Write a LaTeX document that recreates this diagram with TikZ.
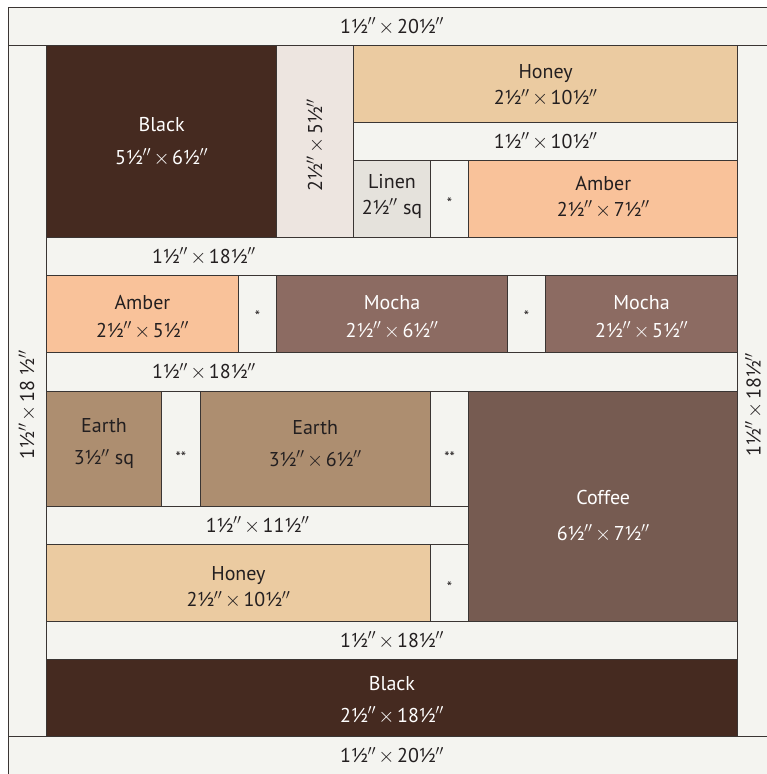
\documentclass[tikz,border=0pt]{standalone}
\usepackage{fontspec}
\setmainfont{PT Sans}
\definecolor{cream}{HTML}{F4F4F0}
\definecolor{seam}{HTML}{3A3533}
\definecolor{ink}{HTML}{231F20}
\definecolor{blackfab}{HTML}{452A20}
\definecolor{blush}{HTML}{EDE5E0}
\definecolor{honey}{HTML}{EBCBA1}
\definecolor{linen}{HTML}{E5E2DC}
\definecolor{amber}{HTML}{F9C29A}
\definecolor{mocha}{HTML}{8C6B62}
\definecolor{earth}{HTML}{AD8E70}
\definecolor{coffee}{HTML}{765B51}
\newcommand{\ins}{\kern-0.5pt$''$}
\newcommand{\by}{\hspace{2.5pt}$\times$\hspace{2.5pt}}

\begin{document}
\begin{tikzpicture}[x=38.4pt,y=-38.4pt]
	\tikzset{
		patch/.style={draw=seam,line width=0.9pt},
		size/.style={font=\fontsize{20}{24}\selectfont,text=ink,align=center,inner sep=0pt},
		sizew/.style={size,text=white},
		star/.style={font=\fontsize{15}{18}\selectfont,text=ink,inner sep=0pt}
	}
	\useasboundingbox (-0.2083,-0.1823) rectangle (19.7656,19.974);
	\clip (-0.2083,-0.1823) rectangle (19.7656,19.974);
	
	% borders
	\draw[patch,fill=cream] (0,0) rectangle (20,1);
	\draw[patch,fill=cream] (0,19) rectangle (20,20);
	\draw[patch,fill=cream] (0,1) rectangle (1,19);
	\draw[patch,fill=cream] (19,1) rectangle (20,19);
	\node[size] (topB) at (10,0.5) {1½\ins\by20½\ins};
	\node[size] (botB) at (10,19.5) {1½\ins\by20½\ins};
	\node[size,rotate=90] (leftB) at (0.5,10.36) {1½\ins\by18 ½\ins};
	\node[size,rotate=90] (rightB) at (19.42,10.36) {1½\ins\by18½\ins};
	
	% top block
	\draw[patch,fill=blackfab] (1,1) rectangle (7,6);
	\node[sizew] (black1) at (4,3.5) {Black\\[9pt]5½\ins\by6½\ins};
	\draw[patch,fill=blush] (7,1) rectangle (9,6);
	\node[size,rotate=90] (blush1) at (8,3.6) {2½\ins\by5½\ins};
	\draw[patch,fill=honey] (9,1) rectangle (19,3);
	\node[size] (honey1) at (14,2.05) {Honey\\[2pt]2½\ins\by10½\ins};
	\draw[patch,fill=cream] (9,3) rectangle (19,4);
	\node[size] (strip1) at (14,3.5) {1½\ins\by10½\ins};
	\draw[patch,fill=linen] (9,4) rectangle (11,6);
	\node[size] (linen1) at (10,4.92) {Linen\\[2pt]2½\ins{} sq};
	\draw[patch,fill=cream] (11,4) rectangle (12,6);
	\node[star] (star1) at (11.5,5.1) {*};
	\draw[patch,fill=amber] (12,4) rectangle (19,6);
	\node[size] (amber1) at (15.5,4.95) {Amber\\[2pt]2½\ins\by7½\ins};
	\draw[patch,fill=cream] (1,6) rectangle (19,7);
	\node[size] (strip2) at (5.1,6.5) {1½\ins\by18½\ins};
	
	% middle row
	\draw[patch,fill=amber] (1,7) rectangle (6,9);
	\node[size] (amber2) at (3.5,8.08) {Amber\\[4pt]2½\ins\by5½\ins};
	\draw[patch,fill=cream] (6,7) rectangle (7,9);
	\node[star] (star2) at (6.5,8.05) {*};
	\draw[patch,fill=mocha] (7,7) rectangle (13,9);
	\node[sizew] (mocha1) at (10,8.08) {Mocha\\[4pt]2½\ins\by6½\ins};
	\draw[patch,fill=cream] (13,7) rectangle (14,9);
	\node[star] (star3) at (13.5,8.05) {*};
	\draw[patch,fill=mocha] (14,7) rectangle (19,9);
	\node[sizew] (mocha2) at (16.5,8.08) {Mocha\\[4pt]2½\ins\by5½\ins};
	\draw[patch,fill=cream] (1,9) rectangle (19,10);
	\node[size] (strip3) at (5.1,9.5) {1½\ins\by18½\ins};
	
	% lower block
	\draw[patch,fill=earth] (1,10) rectangle (4,13);
	\node[size] (earth1) at (2.5,11.38) {Earth\\[8pt]3½\ins{} sq};
	\draw[patch,fill=cream] (4,10) rectangle (5,13);
	\node[star] (star4) at (4.5,11.72) {**};
	\draw[patch,fill=earth] (5,10) rectangle (11,13);
	\node[size] (earth2) at (8,11.38) {Earth\\[8pt]3½\ins\by6½\ins};
	\draw[patch,fill=cream] (11,10) rectangle (12,13);
	\node[star] (star5) at (11.5,11.72) {**};
	\draw[patch,fill=coffee] (12,10) rectangle (19,16);
	\node[sizew] (coffee1) at (15.5,13.26) {Coffee\\[12pt]6½\ins\by7½\ins};
	\draw[patch,fill=cream] (1,13) rectangle (12,14);
	\node[size] (strip4) at (6.5,13.5) {1½\ins\by11½\ins};
	\draw[patch,fill=honey] (1,14) rectangle (11,16);
	\node[size] (honey2) at (6,15.12) {Honey\\[2pt]2½\ins\by10½\ins};
	\draw[patch,fill=cream] (11,14) rectangle (12,16);
	\node[star] (star6) at (11.5,15.1) {*};
	\draw[patch,fill=cream] (1,16) rectangle (19,17);
	\node[size] (strip5) at (10,16.5) {1½\ins\by18½\ins};
	\draw[patch,fill=blackfab] (1,17) rectangle (19,19);
	\node[sizew] (black2) at (10,18.05) {Black\\[8pt]2½\ins\by18½\ins};
\end{tikzpicture}
\end{document}
